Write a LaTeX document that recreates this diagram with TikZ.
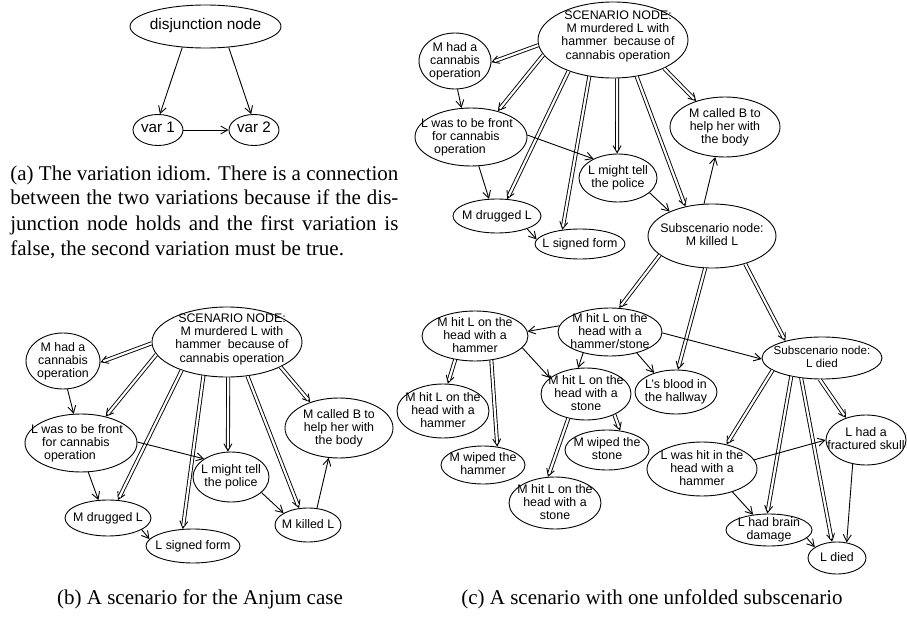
\documentclass[tikz,border=0pt]{standalone}
\usepackage{fontspec}
\setmainfont{Liberation Serif}
\newfontfamily\nodefont{Liberation Sans}
\usetikzlibrary{shapes.geometric,arrows.meta}
\NewDocumentCommand\nt{O{0} O{0} m}{\smash{\makebox[0pt]{\hspace*{#1pt}\hspace*{#1pt}\raisebox{-1.8pt}{\raisebox{-#2pt}{\begin{tabular}{@{}c@{}}#3\end{tabular}}}}}}
\NewDocumentCommand\ntl{O{0} O{0} m}{\smash{\makebox[0pt]{\hspace*{#1pt}\hspace*{#1pt}\raisebox{-1.8pt}{\raisebox{-#2pt}{\begin{tabular}{@{}l@{}}#3\end{tabular}}}}}}
\tikzset{
  ell/.style 2 args={ellipse, draw, line width=0.45pt, inner sep=0pt,
    minimum width=#1pt, minimum height=#2pt,
    font=\nodefont\fontsize{6.2}{6.6}\selectfont},
  arr/.style={draw, line width=0.45pt, -{Straight Barb[length=3.5pt,width=4pt]}},
  dbl/.style={arr, postaction={draw, -, double, double distance=1.1pt, shorten >=1.6pt}},
  captxt/.style={inner sep=0pt, font=\fontsize{10.5}{12.5}\selectfont},
}
\begin{document}
\begin{tikzpicture}[x=0.5pt,y=-0.5pt]
\useasboundingbox (0,0) rectangle (907,621);
% ---------- (a)
\node[ell={75.5}{21.5}, font=\nodefont\fontsize{7.7}{8}\selectfont] (dj) at (205.5,26.5) {\nt{disjunction node}};
\node[ell={25}{15.5}, font=\nodefont\fontsize{7.6}{8}\selectfont] (v1) at (158,130) {\nt{var 1}};
\node[ell={25}{15.5}, font=\nodefont\fontsize{7.6}{8}\selectfont] (v2) at (254,130) {\nt{var 2}};
\draw[arr] (dj.222) -- (v1.83);
\draw[arr] (dj.318) -- (v2.100);
\draw[arr] (v1) -- (v2);
\node[captxt, anchor=base west] (capa) at (10,180) {\parbox[t]{194pt}{%
\hbox to\hsize{(a) The variation idiom. There is a connection}%
\hbox to\hsize{between the two variations because if the dis-}%
\hbox to\hsize{junction node holds and the first variation is}%
\hbox{false, the second variation must be true.}}};
% ---------- (b)
\node[ell={75}{35}] (bS) at (227,342) {\nt[2.5][-1.5]{SCENARIO NODE:\\M murdered L with\\hammer~ because of\\cannabis operation}};
\node[ell={37}{28}] (bMh) at (63,361) {\nt{M had a\\cannabis\\operation}};
\node[ell={56}{29}] (bLf) at (81,443) {\ntl[-2]{L was to be front\\\hspace*{5.5pt}for cannabis\\\hspace*{6.5pt}operation}};
\node[ell={38}{25}] (bLt) at (231,477) {\nt{L might tell\\the police}};
\node[ell={43}{18}] (bMd) at (108,518) {\nt{M drugged L}};
\node[ell={47}{17}] (bLs) at (193,546) {\nt{L signed form}};
\node[ell={54}{30}] (bMc) at (339,428) {\nt{M called B to\\help her with\\the body}};
\node[ell={33}{17}] (bMk) at (308,525) {\nt{M killed L}};
\draw[dbl] (bS.181) -- (bMh.358);
\draw[dbl] (bS.190) -- (bLf.47);
\draw[dbl] (bS.212) -- (bMd.61);
\draw[dbl] (bS.235) -- (bLs.121);
\draw[dbl] (bS.272) -- (bLt.97);
\draw[dbl] (bS.301) -- (bMk.118);
\draw[dbl] (bS.335) -- (bMc.138);
\draw[arr] (bMh.279) -- (bLf.104);
\draw[arr] (bLf.284) -- (bMd.118);
\draw[arr] (bLf.1) -- (bLt.146);
\draw[arr] (bMd.341) -- (bLs.171);
\draw[arr] (bLt.333) -- (bMk.154);
\draw[arr] (bMk.62) -- (bMc.251);
\node[captxt, anchor=base] (capb) at (200,604) {(b) A scenario for the Anjum case};
% ---------- (c)
\node[ell={75}{38}] (cS) at (613,40) {\nt[2.5][-2]{SCENARIO NODE:\\M murdered L with\\hammer~ because of\\cannabis operation}};
\node[ell={36}{28}] (cMh) at (455,61) {\nt{M had a\\cannabis\\operation}};
\node[ell={56}{29}] (cLf) at (471,137) {\ntl[-2]{L was to be front\\\hspace*{5.5pt}for cannabis\\\hspace*{6.5pt}operation}};
\node[ell={39}{24}] (cLt) at (618,178) {\nt{L might tell\\the police}};
\node[ell={44}{17}] (cMd) at (497,216) {\nt{M drugged L}};
\node[ell={45}{15}] (cLs) at (580,244) {\nt{L signed form}};
\node[ell={55}{30}] (cMc) at (725,127) {\nt{M called B to\\help her with\\the body}};
\node[ell={64}{32}] (cMk) at (712,236) {\nt{Subscenario node:\\M killed L}};
\node[ell={52}{24}] (cHS) at (610,332) {\nt{M hit L on the\\head with a\\hammer/stone}};
\node[ell={53}{25}] (cHh) at (475,336) {\nt{M hit L on the\\head with a\\hammer}};
\node[ell={45}{26}] (cHst) at (586,394) {\nt{M hit L on the\\head with a\\stone}};
\node[ell={41}{22}] (cBl) at (676,392) {\nt{L’s blood in\\the hallway}};
\node[ell={46}{27}] (cHh2) at (443,411) {\nt{M hit L on the\\head with a\\hammer}};
\node[ell={42}{19}] (cWh) at (483,465) {\nt{M wiped the\\hammer}};
\node[ell={42}{20}] (cWs) at (607,450) {\nt{M wiped the\\stone}};
\node[ell={46}{26}] (cHst2) at (555,503) {\nt{M hit L on the\\head with a\\stone}};
\node[ell={60}{21}, font=\nodefont\fontsize{5.8}{6.4}\selectfont] (cLd) at (822,358) {\nt{Subscenario node:\\L died}};
\node[ell={40}{25}] (cFs) at (866,440) {\nt{L had a\\fractured skull}};
\node[ell={55}{27}] (cLh) at (702,469) {\nt{L was hit in the\\head with a\\hammer}};
\node[ell={43}{16}] (cBd) at (769,530) {\nt{L had brain\\damage}};
\node[ell={29}{16}] (cD) at (837,558) {\nt{L died}};
\draw[dbl] (cS.184) -- (cMh.358);
\draw[dbl] (cS.192) -- (cLf.44);
\draw[dbl] (cS.215) -- (cMd.59);
\draw[dbl] (cS.237) -- (cLs.141);
\draw[dbl] (cS.276) -- (cLt.92);
\draw[dbl] (cS.303) -- (cMk.132);
\draw[dbl] (cS.331) -- (cMc.138);
\draw[arr] (cMh.275) -- (cLf.108);
\draw[arr] (cLf.285) -- (cMd.115);
\draw[arr] (cLf.2) -- (cLt.142);
\draw[arr] (cMd.337) -- (cLs.174);
\draw[arr] (cLt.335) -- (cMk.150);
\draw[arr] (cMk.104) -- (cMc.252);
\draw[dbl] (cMk.200) -- (cHS.69);
\draw[dbl] (cMk.258) -- (cBl.85);
\draw[dbl] (cMk.320) -- (cLd.155);
\draw[arr] (cHS.173) -- (cHh.5);
\draw[arr] (cHS.218) -- (cHst.107);
\draw[arr] (cHS.322) -- (cBl.139);
\draw[arr] (cHS.359) -- (cLd.181);
\draw[dbl] (cHh.230) -- (cHh2.80);
\draw[dbl] (cHh.304) -- (cWh.52);
\draw[arr] (cHh.346) -- (cHst.156);
\draw[dbl] (cHst.324) -- (cWs.56);
\draw[dbl] (cHst.234) -- (cHst2.105);
\draw[dbl] (cLd.194) -- (cLh.45);
\draw[dbl] (cLd.211) -- (cBd.96);
\draw[dbl] (cLd.224) -- (cD.107);
\draw[dbl] (cLd.264) -- (cFs.132);
\draw[arr] (cLh.10) -- (cFs.180);
\draw[arr] (cLh.323) -- (cBd.136);
\draw[arr] (cBd.348) -- (cD.154);
\draw[arr] (cFs.241) -- (cD.58);
\node[captxt, anchor=base] (capc) at (652,604) {(c) A scenario with one unfolded subscenario};
\end{tikzpicture}
\end{document}
